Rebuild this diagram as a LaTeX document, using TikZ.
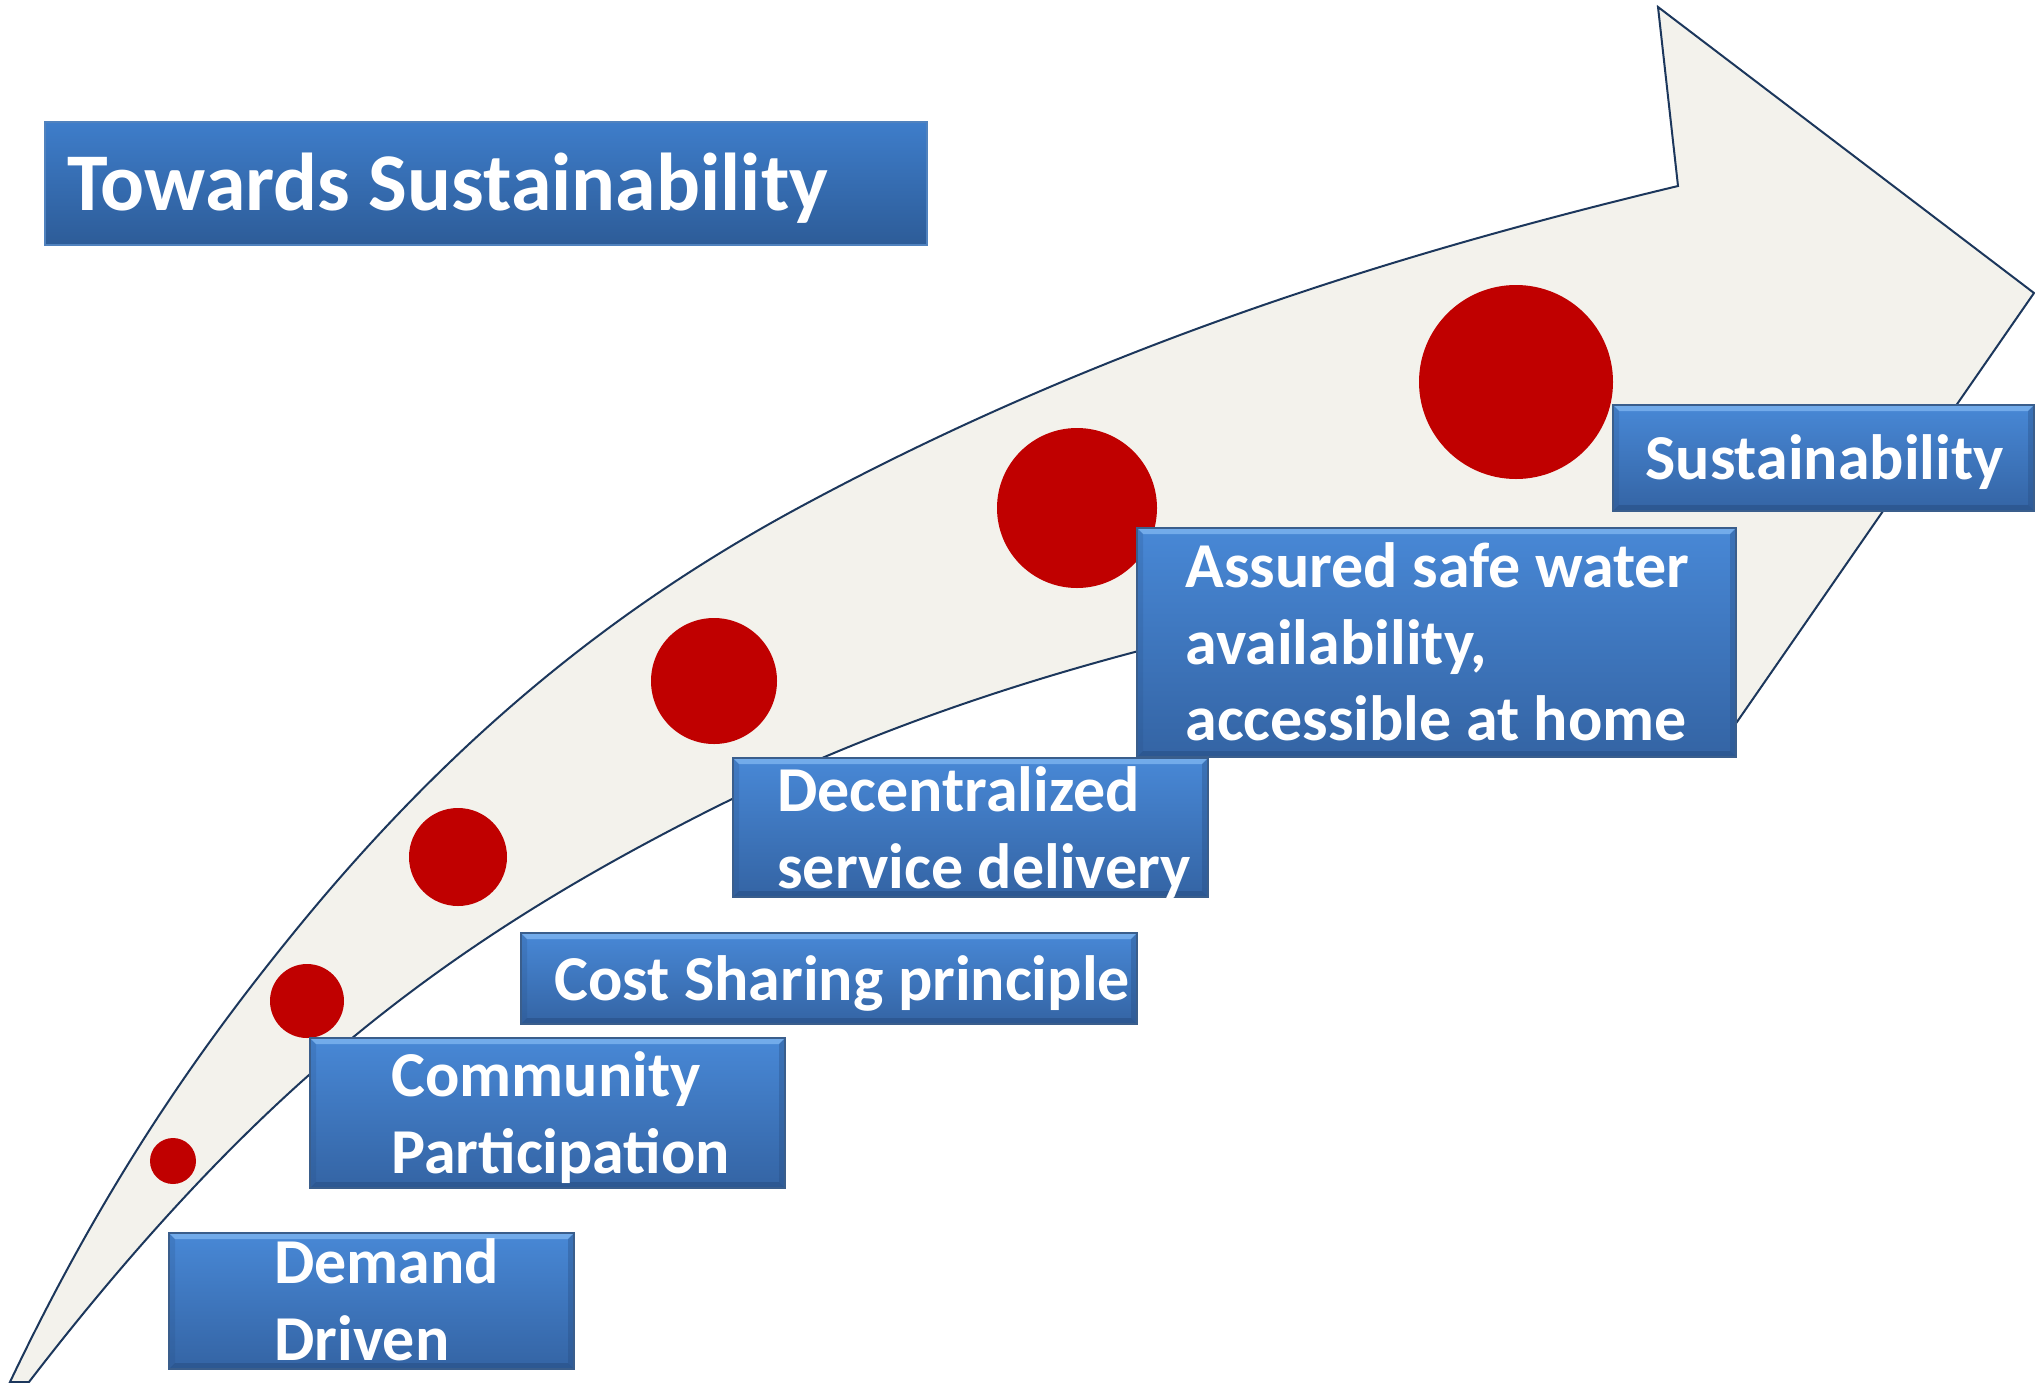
\documentclass[tikz,border=0pt]{standalone}
\usepackage{fontspec}
\setmainfont{Carlito}
\usetikzlibrary{fit}
\definecolor{arrowfill}{RGB}{243,242,236}
\definecolor{arrowline}{RGB}{28,55,92}
\definecolor{dotred}{RGB}{192,0,0}
\definecolor{boxtop}{RGB}{72,136,214}
\definecolor{boxbot}{RGB}{52,100,164}
\definecolor{boxline}{RGB}{58,94,140}
\definecolor{bevlight}{RGB}{125,180,240}
\definecolor{bevdark}{RGB}{38,76,128}
\definecolor{titletop}{RGB}{62,125,202}
\definecolor{titlebot}{RGB}{45,92,152}
\definecolor{titleline}{RGB}{80,130,190}
\newcommand\firstline{\rule{0pt}{26pt}}
\begin{document}
\begin{tikzpicture}[x=0.5pt,y=-0.5pt,
  bluebox/.style={draw=boxline, line width=0.75pt, top color=boxtop, bottom color=boxbot,
    inner sep=0pt, rectangle, path picture={
    \fill[bevlight, opacity=0.8] (path picture bounding box.north west) -- (path picture bounding box.north east) -- ([shift={(-3pt,-3pt)}]path picture bounding box.north east) -- ([shift={(3pt,-3pt)}]path picture bounding box.north west) -- cycle;
    \fill[bevdark, opacity=0.5] (path picture bounding box.south west) -- (path picture bounding box.south east) -- ([shift={(-3pt,3pt)}]path picture bounding box.south east) -- ([shift={(3pt,3pt)}]path picture bounding box.south west) -- cycle;
    \fill[bevdark, opacity=0.35] (path picture bounding box.north east) -- (path picture bounding box.south east) -- ([shift={(-3pt,3pt)}]path picture bounding box.south east) -- ([shift={(-3pt,-3pt)}]path picture bounding box.north east) -- cycle;
    \fill[bevdark, opacity=0.2] (path picture bounding box.north west) -- (path picture bounding box.south west) -- ([shift={(3pt,3pt)}]path picture bounding box.south west) -- ([shift={(3pt,-3pt)}]path picture bounding box.north west) -- cycle;
  }},
  titlebox/.style={draw=titleline, line width=0.75pt, top color=titletop, bottom color=titlebot, inner sep=0pt, rectangle},
  lbl/.style={anchor=north west, inner sep=0pt, text=white, align=left, font=\bfseries\fontsize{32pt}{38.3pt}\selectfont},
  dot/.style={circle, fill=dotred, inner sep=0pt, draw=none},
  arrowbody/.style={fill=arrowfill, draw=arrowline, line width=1pt, line join=miter}
]
\useasboundingbox (0,0) rectangle (2035,1382);

% curved arrow
\filldraw[arrowbody] (10,1382)
  .. controls (106.7,1179) and (203.3,1043) .. (300,925)
  .. controls (466.7,721.6) and (633.3,597) .. (800,507)
  .. controls (1092.7,349) and (1385.3,256.2) .. (1678,186)
  -- (1658,7) -- (2034,293) -- (1721,745) -- (1150,648)
  .. controls (1000,687) and (850,738.5) .. (700,815)
  .. controls (566.7,883) and (433.3,963) .. (300,1083)
  .. controls (209.7,1164.3) and (119.3,1264.6) .. (29,1382) -- cycle;

% dots
\node[dot, minimum size=23pt] (d1) at (173,1161) {};
\node[dot, minimum size=37pt] (d2) at (307,1001) {};
\node[dot, minimum size=49pt] (d3) at (458,857) {};
\node[dot, minimum size=63pt] (d4) at (714,681) {};
\node[dot, minimum size=80pt] (d5) at (1077,508) {};
\node[dot, minimum size=97pt] (d6) at (1516,382) {};

% title
\node[titlebox, fit={(45,122) (927,245)}] (tbox) {};
\node[lbl, font=\bfseries\fontsize{41pt}{48pt}\selectfont] (ttext) at (67,144) {\rule{0pt}{33pt}Towards Sustainability};

% boxes
\node[bluebox, fit={(1613,405) (2034,511)}] (susbox) {};
\node[lbl] (sustext) at (1645,427) {\firstline Sustainability};
\node[bluebox, fit={(1137,528) (1736,757)}] (assbox) {};
\node[lbl] (asstext) at (1185,535) {\firstline Assured safe water\\availability,\\accessible at home};
\node[bluebox, fit={(733,758) (1208,897)}] (decbox) {};
\node[lbl] (dectext) at (777,759) {\firstline Decentralized\\service delivery};
\node[bluebox, fit={(521,933) (1137,1024)}] (costbox) {};
\node[lbl] (costtext) at (554,948) {\firstline Cost Sharing principle};
\node[bluebox, fit={(310,1038) (785,1188)}] (combox) {};
\node[lbl] (comtext) at (391,1044) {\firstline Community\\Participation};
\node[bluebox, fit={(169,1233) (574,1369)}] (dembox) {};
\node[lbl] (demtext) at (274,1231) {\firstline Demand\\Driven};
\end{tikzpicture}
\end{document}
